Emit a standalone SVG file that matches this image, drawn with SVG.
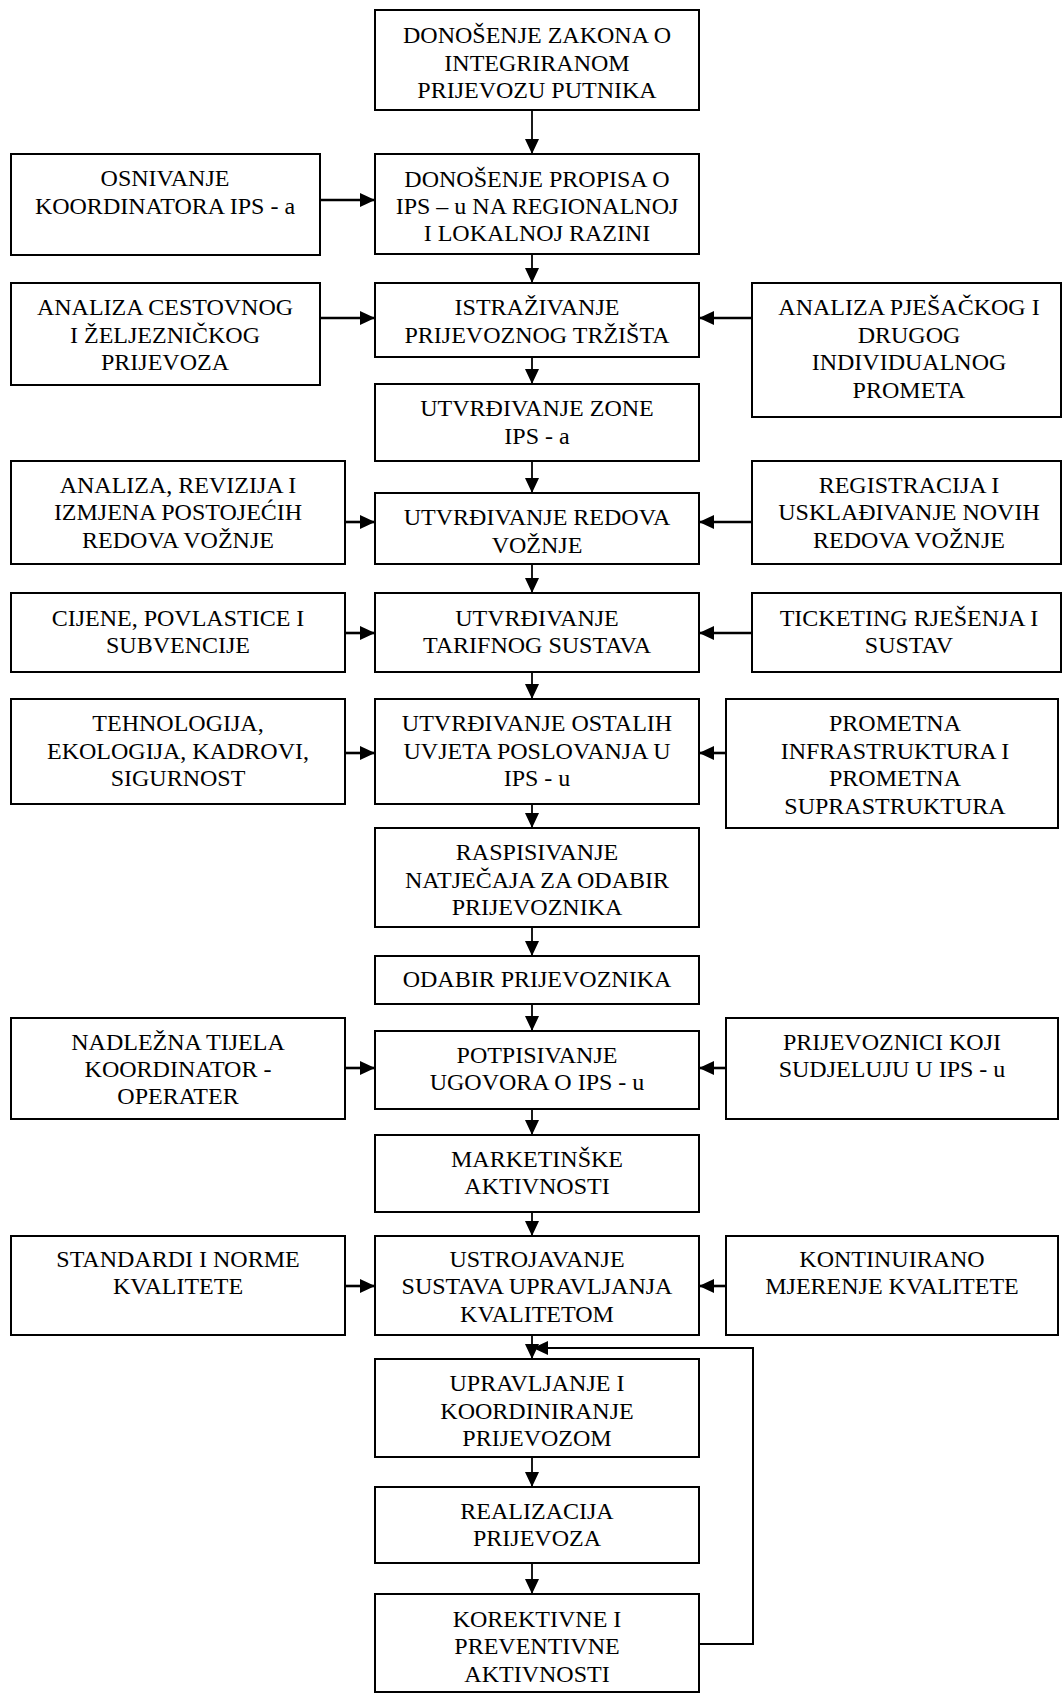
<svg xmlns="http://www.w3.org/2000/svg" width="1062" height="1693" viewBox="0 0 1062 1693">
<style>
.box{fill:#fff;stroke:#000;stroke-width:2}
.t{font-family:"Liberation Serif","Times New Roman",serif;font-size:24px;text-anchor:middle;fill:#000}
.v{stroke:#000;stroke-width:1.8;fill:none}
.h{stroke:#000;stroke-width:2.6;fill:none}
.fb{stroke:#000;stroke-width:2;fill:none}
</style>
<defs>
<marker id="ah" markerUnits="userSpaceOnUse" markerWidth="15" markerHeight="14" refX="15" refY="7" orient="auto">
<path d="M0,0 L15,7 L0,14 z" fill="#000"/>
</marker>
</defs>
<rect x="0" y="0" width="1062" height="1693" fill="#fff"/>

<g id="connectors">
<line class="v" x1="532" y1="110" x2="532" y2="154" marker-end="url(#ah)"/>
<line class="v" x1="532" y1="254" x2="532" y2="283" marker-end="url(#ah)"/>
<line class="v" x1="532" y1="357" x2="532" y2="384" marker-end="url(#ah)"/>
<line class="v" x1="532" y1="461" x2="532" y2="493" marker-end="url(#ah)"/>
<line class="v" x1="532" y1="564" x2="532" y2="593" marker-end="url(#ah)"/>
<line class="v" x1="532" y1="672" x2="532" y2="699" marker-end="url(#ah)"/>
<line class="v" x1="532" y1="804" x2="532" y2="828" marker-end="url(#ah)"/>
<line class="v" x1="532" y1="927" x2="532" y2="956" marker-end="url(#ah)"/>
<line class="v" x1="532" y1="1004" x2="532" y2="1031" marker-end="url(#ah)"/>
<line class="v" x1="532" y1="1109" x2="532" y2="1135" marker-end="url(#ah)"/>
<line class="v" x1="532" y1="1212" x2="532" y2="1236" marker-end="url(#ah)"/>
<line class="v" x1="532" y1="1335" x2="532" y2="1359" marker-end="url(#ah)"/>
<line class="v" x1="532" y1="1457" x2="532" y2="1487" marker-end="url(#ah)"/>
<line class="v" x1="532" y1="1563" x2="532" y2="1594" marker-end="url(#ah)"/>

<line class="h" x1="320" y1="200" x2="375" y2="200" marker-end="url(#ah)"/>
<line class="h" x1="320" y1="318" x2="375" y2="318" marker-end="url(#ah)"/>
<line class="h" x1="752" y1="318" x2="699" y2="318" marker-end="url(#ah)"/>
<line class="h" x1="345" y1="522" x2="375" y2="522" marker-end="url(#ah)"/>
<line class="h" x1="752" y1="522" x2="699" y2="522" marker-end="url(#ah)"/>
<line class="h" x1="345" y1="633" x2="375" y2="633" marker-end="url(#ah)"/>
<line class="h" x1="752" y1="633" x2="699" y2="633" marker-end="url(#ah)"/>
<line class="h" x1="345" y1="753" x2="375" y2="753" marker-end="url(#ah)"/>
<line class="h" x1="726" y1="753" x2="699" y2="753" marker-end="url(#ah)"/>
<line class="h" x1="345" y1="1068" x2="375" y2="1068" marker-end="url(#ah)"/>
<line class="h" x1="726" y1="1068" x2="699" y2="1068" marker-end="url(#ah)"/>
<line class="h" x1="345" y1="1286" x2="375" y2="1286" marker-end="url(#ah)"/>
<line class="h" x1="726" y1="1286" x2="699" y2="1286" marker-end="url(#ah)"/>

<path class="fb" d="M699,1644 H753 V1348 H533" marker-end="url(#ah)"/>
</g>

<g id="n-b1"><rect class="box" x="375" y="10" width="324" height="100"/>
<text class="t"><tspan x="537" y="42.5">DONOŠENJE ZAKONA O</tspan><tspan x="537" y="70.5">INTEGRIRANOM</tspan><tspan x="537" y="98">PRIJEVOZU PUTNIKA</tspan></text></g>

<g id="n-l1"><rect class="box" x="11" y="154" width="309" height="101"/>
<text class="t"><tspan x="165" y="185.5">OSNIVANJE</tspan><tspan x="165" y="213.5">KOORDINATORA IPS - a</tspan></text></g>

<g id="n-b2"><rect class="box" x="375" y="154" width="324" height="100"/>
<text class="t"><tspan x="537" y="186.5">DONOŠENJE PROPISA O</tspan><tspan x="537" y="213.5">IPS – u NA REGIONALNOJ</tspan><tspan x="537" y="241">I LOKALNOJ RAZINI</tspan></text></g>

<g id="n-l2"><rect class="box" x="11" y="283" width="309" height="102"/>
<text class="t"><tspan x="165" y="315">ANALIZA CESTOVNOG</tspan><tspan x="165" y="342.5">I ŽELJEZNIČKOG</tspan><tspan x="165" y="370">PRIJEVOZA</tspan></text></g>

<g id="n-b3"><rect class="box" x="375" y="283" width="324" height="74"/>
<text class="t"><tspan x="537" y="315">ISTRAŽIVANJE</tspan><tspan x="537" y="342.5">PRIJEVOZNOG TRŽIŠTA</tspan></text></g>

<g id="n-r1"><rect class="box" x="752" y="283" width="309" height="134"/>
<text class="t"><tspan x="909" y="315">ANALIZA PJEŠAČKOG I</tspan><tspan x="909" y="342.5">DRUGOG</tspan><tspan x="909" y="370">INDIVIDUALNOG</tspan><tspan x="909" y="397.5">PROMETA</tspan></text></g>

<g id="n-b4"><rect class="box" x="375" y="384" width="324" height="77"/>
<text class="t"><tspan x="537" y="416">UTVRĐIVANJE ZONE</tspan><tspan x="537" y="444">IPS - a</tspan></text></g>

<g id="n-l3"><rect class="box" x="11" y="461" width="334" height="103"/>
<text class="t"><tspan x="178" y="493">ANALIZA, REVIZIJA I</tspan><tspan x="178" y="520">IZMJENA POSTOJEĆIH</tspan><tspan x="178" y="547.5">REDOVA VOŽNJE</tspan></text></g>

<g id="n-b5"><rect class="box" x="375" y="493" width="324" height="71"/>
<text class="t"><tspan x="537" y="525">UTVRĐIVANJE REDOVA</tspan><tspan x="537" y="552.5">VOŽNJE</tspan></text></g>

<g id="n-r2"><rect class="box" x="752" y="461" width="309" height="103"/>
<text class="t"><tspan x="909" y="493">REGISTRACIJA I</tspan><tspan x="909" y="520">USKLAĐIVANJE NOVIH</tspan><tspan x="909" y="547.5">REDOVA VOŽNJE</tspan></text></g>

<g id="n-l4"><rect class="box" x="11" y="593" width="334" height="79"/>
<text class="t"><tspan x="178" y="626">CIJENE, POVLASTICE I</tspan><tspan x="178" y="652.5">SUBVENCIJE</tspan></text></g>

<g id="n-b6"><rect class="box" x="375" y="593" width="324" height="79"/>
<text class="t"><tspan x="537" y="626">UTVRĐIVANJE</tspan><tspan x="537" y="652.5">TARIFNOG SUSTAVA</tspan></text></g>

<g id="n-r3"><rect class="box" x="752" y="593" width="309" height="79"/>
<text class="t"><tspan x="909" y="626">TICKETING RJEŠENJA I</tspan><tspan x="909" y="652.5">SUSTAV</tspan></text></g>

<g id="n-l5"><rect class="box" x="11" y="699" width="334" height="105"/>
<text class="t"><tspan x="178" y="731">TEHNOLOGIJA,</tspan><tspan x="178" y="759">EKOLOGIJA, KADROVI,</tspan><tspan x="178" y="786">SIGURNOST</tspan></text></g>

<g id="n-b7"><rect class="box" x="375" y="699" width="324" height="105"/>
<text class="t"><tspan x="537" y="731">UTVRĐIVANJE OSTALIH</tspan><tspan x="537" y="759">UVJETA POSLOVANJA U</tspan><tspan x="537" y="786">IPS - u</tspan></text></g>

<g id="n-r4"><rect class="box" x="726" y="699" width="332" height="129"/>
<text class="t"><tspan x="895" y="731">PROMETNA</tspan><tspan x="895" y="759">INFRASTRUKTURA I</tspan><tspan x="895" y="786">PROMETNA</tspan><tspan x="895" y="813.5">SUPRASTRUKTURA</tspan></text></g>

<g id="n-b8"><rect class="box" x="375" y="828" width="324" height="99"/>
<text class="t"><tspan x="537" y="860">RASPISIVANJE</tspan><tspan x="537" y="887.5">NATJEČAJA ZA ODABIR</tspan><tspan x="537" y="915">PRIJEVOZNIKA</tspan></text></g>

<g id="n-b9"><rect class="box" x="375" y="956" width="324" height="48"/>
<text class="t"><tspan x="537" y="987">ODABIR PRIJEVOZNIKA</tspan></text></g>

<g id="n-l6"><rect class="box" x="11" y="1018" width="334" height="101"/>
<text class="t"><tspan x="178" y="1050">NADLEŽNA TIJELA</tspan><tspan x="178" y="1076.5">KOORDINATOR -</tspan><tspan x="178" y="1104">OPERATER</tspan></text></g>

<g id="n-b10"><rect class="box" x="375" y="1031" width="324" height="78"/>
<text class="t"><tspan x="537" y="1063">POTPISIVANJE</tspan><tspan x="537" y="1090">UGOVORA O IPS - u</tspan></text></g>

<g id="n-r5"><rect class="box" x="726" y="1018" width="332" height="101"/>
<text class="t"><tspan x="892" y="1050">PRIJEVOZNICI KOJI</tspan><tspan x="892" y="1076.5">SUDJELUJU U IPS - u</tspan></text></g>

<g id="n-b11"><rect class="box" x="375" y="1135" width="324" height="77"/>
<text class="t"><tspan x="537" y="1166.5">MARKETINŠKE</tspan><tspan x="537" y="1194">AKTIVNOSTI</tspan></text></g>

<g id="n-l7"><rect class="box" x="11" y="1236" width="334" height="99"/>
<text class="t"><tspan x="178" y="1266.5">STANDARDI I NORME</tspan><tspan x="178" y="1294">KVALITETE</tspan></text></g>

<g id="n-b12"><rect class="box" x="375" y="1236" width="324" height="99"/>
<text class="t"><tspan x="537" y="1266.5">USTROJAVANJE</tspan><tspan x="537" y="1294">SUSTAVA UPRAVLJANJA</tspan><tspan x="537" y="1322">KVALITETOM</tspan></text></g>

<g id="n-r6"><rect class="box" x="726" y="1236" width="332" height="99"/>
<text class="t"><tspan x="892" y="1266.5">KONTINUIRANO</tspan><tspan x="892" y="1294">MJERENJE KVALITETE</tspan></text></g>

<g id="n-b13"><rect class="box" x="375" y="1359" width="324" height="98"/>
<text class="t"><tspan x="537" y="1391">UPRAVLJANJE I</tspan><tspan x="537" y="1418.5">KOORDINIRANJE</tspan><tspan x="537" y="1446">PRIJEVOZOM</tspan></text></g>

<g id="n-b14"><rect class="box" x="375" y="1487" width="324" height="76"/>
<text class="t"><tspan x="537" y="1519">REALIZACIJA</tspan><tspan x="537" y="1546">PRIJEVOZA</tspan></text></g>

<g id="n-b15"><rect class="box" x="375" y="1594" width="324" height="98"/>
<text class="t"><tspan x="537" y="1626.5">KOREKTIVNE I</tspan><tspan x="537" y="1654">PREVENTIVNE</tspan><tspan x="537" y="1681.5">AKTIVNOSTI</tspan></text></g>
</svg>
